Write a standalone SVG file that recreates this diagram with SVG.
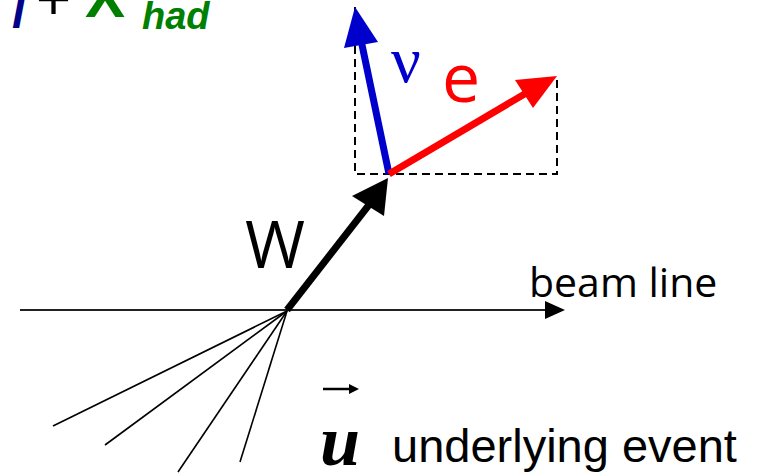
<svg xmlns="http://www.w3.org/2000/svg" width="765" height="475" viewBox="0 0 765 475">
<style>
.fan{stroke:#000;stroke-width:1.6;fill:none}
.dash{stroke:#000;stroke-width:2;stroke-dasharray:8,5;fill:none}
</style>
<rect width="765" height="475" fill="#fff"/>
<g id="title">
<text x="12" y="28" font-family="Liberation Sans, sans-serif" font-weight="bold" font-style="italic" font-size="46" fill="#00008b">l</text>
<text x="36" y="19" font-family="Liberation Sans, sans-serif" font-size="60" fill="#000">+</text>
<text x="85" y="17" font-family="Liberation Sans, sans-serif" font-weight="bold" font-size="60" fill="#008000">X</text>
<text x="142" y="29" font-family="Liberation Sans, sans-serif" font-weight="bold" font-style="italic" font-size="38" fill="#008000">had</text>
</g>
<g id="dashed-box">
<path class="dash" d="M355,7 V174 H557 V77"/>
</g>
<g id="beam">
<line x1="20" y1="310" x2="548" y2="310" stroke="#222" stroke-width="2"/>
<polygon points="565,310 545,301 545,319" fill="#000"/>
<text x="529" y="297" font-family="Open Sans, sans-serif" font-size="41" fill="#000">beam line</text>
</g>
<g id="fan">
<line class="fan" x1="287" y1="311" x2="53" y2="426"/>
<line class="fan" x1="287" y1="311" x2="105" y2="445"/>
<line class="fan" x1="287" y1="311" x2="178" y2="472"/>
<line class="fan" x1="287" y1="311" x2="240" y2="462"/>
</g>
<g id="W">
<line x1="287" y1="310" x2="372" y2="201" stroke="#000" stroke-width="7"/>
<polygon points="388,178 352,196 384,216" fill="#000"/>
<text x="245" y="268" font-family="Open Sans, sans-serif" font-size="65" fill="#000">W</text>
</g>
<g id="nu">
<line x1="389" y1="174" x2="361" y2="40" stroke="#0000cc" stroke-width="7"/>
<polygon points="355,7 344,48 378,42" fill="#0000cc"/>
<text x="391" y="82" font-family="Liberation Serif, serif" font-size="66" fill="#0000cc">ν</text>
</g>
<g id="e">
<line x1="389" y1="174" x2="528" y2="92" stroke="#ff0000" stroke-width="7"/>
<polygon points="557,76 515,80 533,108" fill="#ff0000"/>
<text x="442" y="102" font-family="Open Sans, sans-serif" font-size="68" fill="#ff0000">e</text>
</g>
<g id="u">
<line x1="323" y1="389" x2="352" y2="389" stroke="#000" stroke-width="2.5"/>
<polygon points="359,389 349,384 349,394" fill="#000"/>
<text x="320" y="465" font-family="Liberation Serif, serif" font-style="italic" font-weight="bold" font-size="72" fill="#000">u</text>
<text x="392" y="462" font-family="Liberation Sans, sans-serif" font-size="47" fill="#000">underlying event</text>
</g>
</svg>
